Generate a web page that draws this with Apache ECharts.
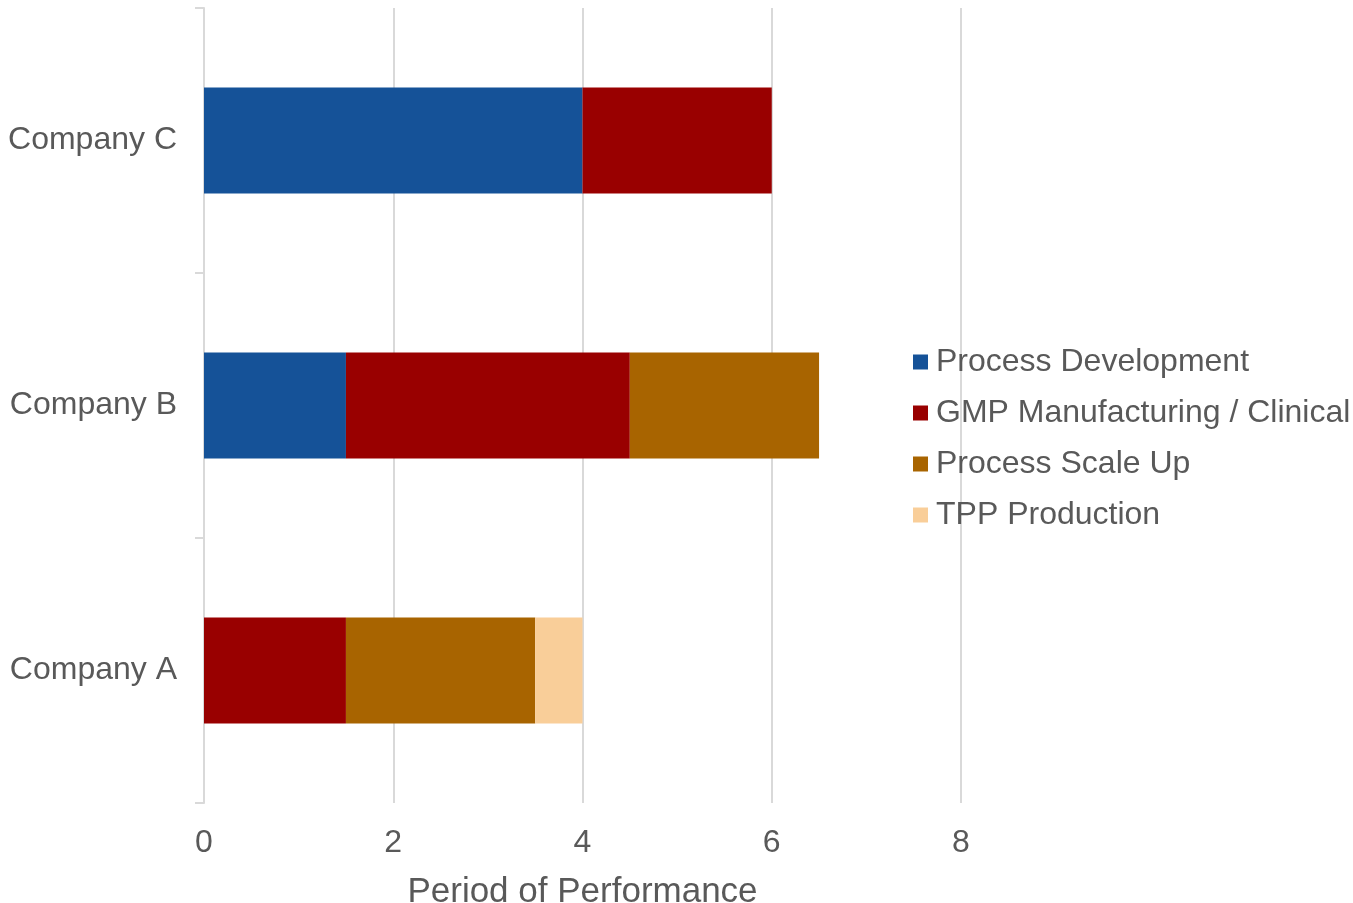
<!DOCTYPE html>
<html>
<head>
<meta charset="utf-8">
<script src="https://cdn.jsdelivr.net/npm/echarts@6/dist/echarts.min.js"></script>
<style>
  html, body { margin: 0; padding: 0; background: #fff; }
  #chart { width: 1353px; height: 903px; }
</style>
</head>
<body>
<div id="chart"></div>
<script>
const companies = ['Company A', 'Company B', 'Company C'];
const xTicks = [0, 2, 4, 6, 8];

const processDevelopment = [0, 1.5, 4];
const gmpManufacturing = [1.5, 3, 2];
const processScaleUp = [2, 2, 0];
const tppProduction = [0.5, 0, 0];

const seriesNames = ['Process Development', 'GMP Manufacturing / Clinical', 'Process Scale Up', 'TPP Production'];
const seriesColors = ['#155298', '#990000', '#A86400', '#F9CE99'];
const seriesData = [processDevelopment, gmpManufacturing, processScaleUp, tppProduction];

const chart = echarts.init(document.getElementById('chart'));
const fontFamily = 'Arial, "Liberation Sans", sans-serif';

const option = {
  animation: false,
  textStyle: { fontFamily: fontFamily },
  // v6 shrinks the grid to keep labels inside; turn that off
  grid: { left: 204, width: 757, top: 8, height: 795, containLabel: false, outerBoundsMode: 'none' },
  legend: {
    orient: 'vertical',
    left: 908,
    top: 341,
    icon: 'rect',
    itemWidth: 15,
    itemHeight: 15,
    itemGap: 19,
    textStyle: { fontSize: 32, color: '#595959', fontFamily: fontFamily, padding: [0, 0, 0, 3] },
    data: seriesNames
  },
  xAxis: {
    type: 'value',
    min: xTicks[0],
    max: xTicks[xTicks.length - 1],
    interval: 2,
    name: 'Period of Performance',
    nameLocation: 'middle',
    nameGap: 72,
    nameTextStyle: { fontSize: 35, color: '#595959' },
    axisLine: { show: false },
    axisTick: { show: false },
    axisLabel: { fontSize: 32, color: '#595959', margin: 24 },
    splitLine: { show: true, lineStyle: { color: '#d9d9d9', width: 2 } }
  },
  yAxis: {
    type: 'category',
    data: companies,
    axisLine: { show: true, lineStyle: { color: '#d9d9d9', width: 2 } },
    axisTick: { show: true, length: 9, lineStyle: { color: '#d9d9d9', width: 2 } },
    axisLabel: { fontSize: 32, color: '#595959', margin: 27, padding: [3, 0, 0, 0] }
  },
  series: seriesNames.map((name, i) => ({
    name: name,
    type: 'bar',
    stack: 'total',
    barWidth: '40%',
    itemStyle: { color: seriesColors[i] },
    data: seriesData[i]
  }))
};

chart.setOption(option);
</script>
</body>
</html>
